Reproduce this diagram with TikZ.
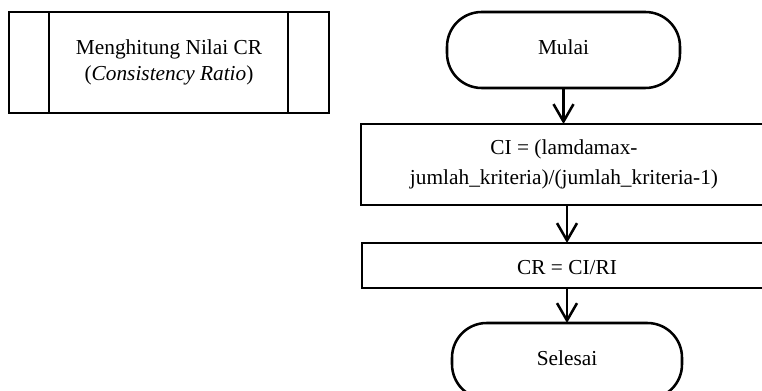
\documentclass[tikz,border=0pt]{standalone}
\usepackage{fontspec}
\setmainfont{Liberation Serif}
\usetikzlibrary{arrows.meta}
\begin{document}
\begin{tikzpicture}[x=0.75pt,y=-0.75pt,
  box/.style={draw, line width=1.9pt, rectangle, inner sep=0pt, outer sep=0pt,
    align=center, font=\fontsize{16}{22.5}\selectfont},
  term/.style={box, rounded corners=26pt, text depth=5pt},
  flow/.style={line width=1.9pt,
    -{Straight Barb[length=13pt,width=15pt,line width=1.9pt]}}]
\useasboundingbox (0,0) rectangle (762,391);
\clip (0,0) rectangle (762,391);

% predefined process
\node[box, minimum width=240pt, minimum height=75.75pt,
      font=\fontsize{16}{19.2}\selectfont] (proc) at (169,62.5)
  {Menghitung Nilai CR\\(\textit{Consistency Ratio})};
\draw[line width=1.9pt] ([xshift=30pt]proc.north west) -- ([xshift=30pt]proc.south west);
\draw[line width=1.9pt] ([xshift=-30.75pt]proc.north east) -- ([xshift=-30.75pt]proc.south east);

% flowchart
\node[term, minimum width=174.75pt, minimum height=57pt] (mulai) at (563.5,50) {Mulai};
\node[box, minimum width=304.5pt, minimum height=60.75pt] (ci) at (564,164.5)
  {CI = (lamdamax-\\jumlah\_kriteria)/(jumlah\_kriteria-1)};
\node[box, minimum width=307.5pt, minimum height=33.75pt, text height=14pt, text depth=0pt]
  (cr) at (567,265.5) {CR = CI/RI};
\node[term, minimum width=172.5pt, minimum height=57pt] (selesai) at (567,361) {Selesai};

\draw[flow] (mulai.south) -- (mulai.south |- ci.north);
\draw[flow] (cr.north |- ci.south) -- (cr.north);
\draw[flow] (cr.south) -- (selesai.north);
\end{tikzpicture}
\end{document}
